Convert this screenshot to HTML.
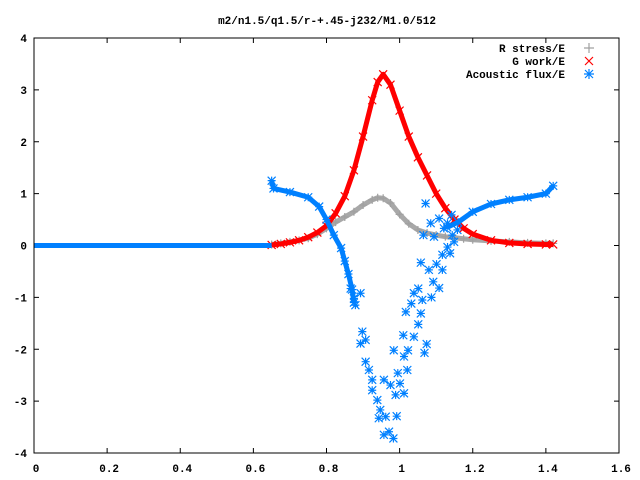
<!DOCTYPE html>
<html><head><meta charset="utf-8">
<style>
html,body{margin:0;padding:0;background:#fff;}
svg{display:block;font-family:"Liberation Mono","DejaVu Sans Mono",monospace;font-weight:bold;font-size:11px;}
</style></head>
<body>
<svg id="chart" width="640" height="480" viewBox="0 0 640 480">
<rect x="0" y="0" width="640" height="480" fill="#fff"/>
<text x="327" y="24" text-anchor="middle">m2/n1.5/q1.5/r-+.45-j232/M1.0/512</text>
<g id="ticks"></g>
<g id="marks"></g>
<rect x="34" y="38" width="585" height="415" fill="none" stroke="#000" stroke-width="1"/>
<g>
  <g>
    <text x="565" y="52" text-anchor="end">R stress/E</text>
    <path d="M584 48h10M589 43v10" stroke="#a0a0a0" stroke-width="1.2"/>
  </g>
  <g>
    <text x="565" y="65" text-anchor="end">G work/E</text>
    <path d="M585 57l8 8M593 57l-8 8" stroke="#ff0000" stroke-width="1.2"/>
  </g>
  <g>
    <text x="565" y="78" text-anchor="end">Acoustic flux/E</text>
    <path d="M584 74h10M589 69v10M585 70l8 8M593 70l-8 8" stroke="#0080ff" stroke-width="1.2"/>
  </g>
</g>
</svg>
<script>
const xTicks = [0,0.2,0.4,0.6,0.8,1,1.2,1.4,1.6];
const xTickLabels = ["0","0.2","0.4","0.6","0.8","1","1.2","1.4","1.6"];
const yTicks = [-4,-3,-2,-1,0,1,2,3,4];
const yTickLabels = ["-4","-3","-2","-1","0","1","2","3","4"];

const curveX = [0.65,0.675,0.70,0.725,0.75,0.775,0.80,0.825,0.85,0.875,0.90,0.925,0.94,0.955,0.975,1.0,1.025,1.05,1.075,1.10,1.125,1.15,1.175,1.2,1.25,1.3,1.35,1.4,1.42];
const rStress = [0.02,0.04,0.07,0.10,0.14,0.22,0.33,0.45,0.55,0.65,0.78,0.88,0.92,0.91,0.82,0.60,0.42,0.30,0.24,0.20,0.17,0.15,0.13,0.11,0.09,0.07,0.05,0.04,0.04];
const gWork = [0.01,0.03,0.06,0.10,0.16,0.25,0.38,0.62,0.95,1.45,2.1,2.8,3.15,3.3,3.1,2.6,2.1,1.7,1.35,1.0,0.72,0.5,0.33,0.22,0.1,0.05,0.03,0.02,0.02];

const fluxZeroX = [0,0.65];
const fluxZeroY = [0,0];
const fluxLeftX = [0.65,0.655,0.70,0.75,0.78,0.80,0.82,0.84,0.85,0.86,0.87,0.875];
const fluxLeftY = [1.25,1.1,1.03,0.93,0.75,0.5,0.2,-0.05,-0.3,-0.55,-0.85,-1.1];
const fluxRightX = [1.13,1.16,1.2,1.25,1.3,1.35,1.4,1.42];
const fluxRightY = [0.35,0.45,0.65,0.8,0.88,0.93,1.0,1.15];
const fluxScatterX = [0.898,0.893,0.907,0.916,0.925,0.925,0.939,0.947,0.943,0.957,0.971,0.983,0.962,0.992,0.957,0.975,1.001,1.012,0.989,0.995,1.021,0.984,1.012,1.023,1.010,1.039,1.074,1.068,1.051,1.058,1.017,1.032,1.062,1.039,1.051,1.087,1.108,1.092,1.058,1.080,1.101,1.117,1.117,1.138,1.131,1.071,1.085,1.108,1.065,1.094,1.121,1.131,1.142,1.158,1.149,1.144,0.879,0.875,0.866,0.893,0.907];
const fluxScatterY = [-1.66,-1.89,-2.24,-2.40,-2.59,-2.79,-2.98,-3.17,-3.33,-3.65,-3.59,-3.72,-3.30,-3.29,-2.59,-2.69,-2.66,-2.85,-2.88,-2.46,-2.40,-2.02,-2.14,-2.02,-1.73,-1.76,-1.90,-2.07,-1.52,-1.31,-1.28,-1.12,-1.05,-0.92,-0.83,-1.00,-0.82,-0.70,-0.33,-0.47,-0.36,-0.47,-0.18,-0.15,-0.03,0.81,0.43,0.52,0.20,0.17,0.33,0.43,0.59,0.30,0.07,0.20,-1.15,-1.02,-0.83,-0.92,-1.82];

const NS = "http://www.w3.org/2000/svg";
const L = 34, R = 619, T = 38, B = 453;
function sx(v){ return L + (v - 0) / 1.6 * (R - L); }
function sy(v){ return B - (v + 4) / 8 * (B - T); }

const tg = document.getElementById('ticks');
xTicks.forEach((t,i)=>{
  const x = sx(t);
  const p = document.createElementNS(NS,'path');
  p.setAttribute('d',`M${x} ${B}v-5M${x} ${T}v5`);
  p.setAttribute('stroke','#000');
  
  
  tg.appendChild(p);
  const tx = document.createElementNS(NS,'text');
  tx.setAttribute('x',x+2); tx.setAttribute('y',472);
  tx.setAttribute('text-anchor','middle');
  tx.textContent = xTickLabels[i];
  
  
  tg.appendChild(tx);
});
yTicks.forEach((t,i)=>{
  const y = sy(t);
  const p = document.createElementNS(NS,'path');
  p.setAttribute('d',`M${L} ${y}h5M${R} ${y}h-5`);
  p.setAttribute('stroke','#000');
  
  
  tg.appendChild(p);
  const tx = document.createElementNS(NS,'text');
  tx.setAttribute('x',27); tx.setAttribute('y',y+4);
  tx.setAttribute('text-anchor','end');
  tx.textContent = yTickLabels[i];
  
  
  tg.appendChild(tx);
});

const mg = document.getElementById('marks');
function band(xs, ys, color, w, name){
  const p = document.createElementNS(NS,'polyline');
  p.setAttribute('points', xs.map((x,i)=>sx(x)+','+sy(ys[i])).join(' '));
  p.setAttribute('fill','none');
  p.setAttribute('stroke',color);
  p.setAttribute('stroke-width',w);
  p.setAttribute('stroke-linejoin','round');
  
  
  mg.appendChild(p);
}
function marker(type, x, y, color, name){
  const X = sx(x), Y = sy(y), s = 4;
  let d;
  if(type==='plus') d=`M${X-s} ${Y}h${2*s}M${X} ${Y-s}v${2*s}`;
  else if(type==='cross') d=`M${X-s} ${Y-s}l${2*s} ${2*s}M${X+s} ${Y-s}l${-2*s} ${2*s}`;
  else d=`M${X-s} ${Y}h${2*s}M${X} ${Y-s}v${2*s}M${X-s} ${Y-s}l${2*s} ${2*s}M${X+s} ${Y-s}l${-2*s} ${2*s}`;
  const p = document.createElementNS(NS,'path');
  p.setAttribute('d',d);
  p.setAttribute('stroke',color);
  p.setAttribute('stroke-width','1.2');
  p.setAttribute('fill','none');
  
  
  mg.appendChild(p);
}

band(curveX, rStress, '#a8a8a8', 5, 'r-stress-band');
curveX.forEach((x,i)=>marker('plus', x, rStress[i], '#a0a0a0', 'r-stress-point'));
band(curveX, gWork, '#ff0000', 5, 'g-work-band');
curveX.forEach((x,i)=>marker('cross', x, gWork[i], '#ff0000', 'g-work-point'));
band(fluxZeroX, fluxZeroY, '#0080ff', 5, 'acoustic-flux-zero-band');
band(fluxLeftX, fluxLeftY, '#0080ff', 5, 'acoustic-flux-left-band');
fluxLeftX.forEach((x,i)=>marker('star', x, fluxLeftY[i], '#0080ff', 'acoustic-flux-point'));
band(fluxRightX, fluxRightY, '#0080ff', 5, 'acoustic-flux-right-band');
fluxRightX.forEach((x,i)=>marker('star', x, fluxRightY[i], '#0080ff', 'acoustic-flux-point'));
fluxScatterX.forEach((x,i)=>marker('star', x, fluxScatterY[i], '#0080ff', 'acoustic-flux-point'));
</script>
</body></html>
